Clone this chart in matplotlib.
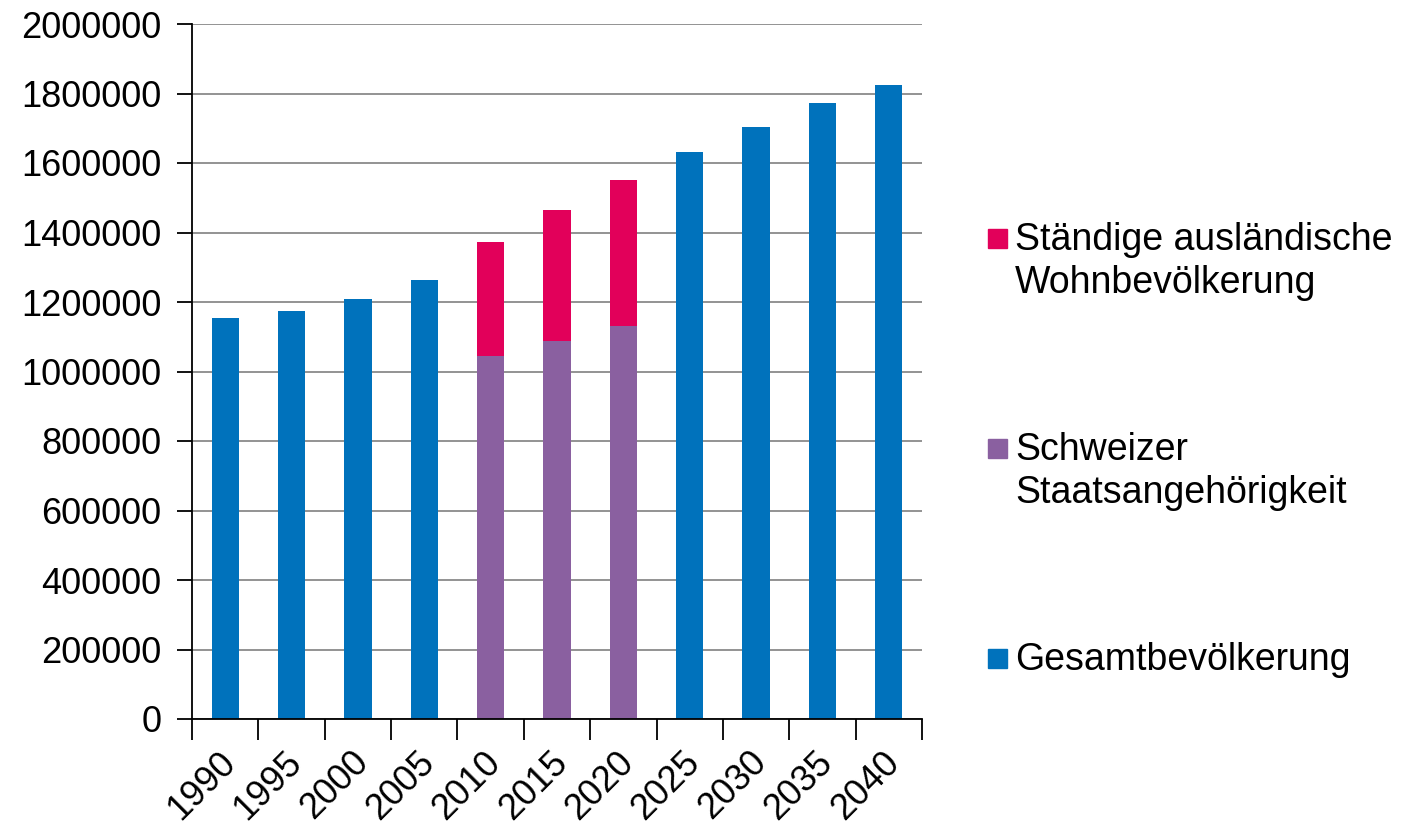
import matplotlib
matplotlib.use("Agg")
import matplotlib.pyplot as plt
import numpy as np
from matplotlib.patches import Rectangle
import matplotlib.transforms as mtransforms

plt.rcParams['font.family'] = ['Liberation Sans', 'DejaVu Sans']

years = ['1990', '1995', '2000', '2005', '2010', '2015', '2020', '2025', '2030', '2035', '2040']
gesamt = [1155000, 1173000, 1208000, 1264000, 0, 0, 0, 1631000, 1705000, 1772000, 1824000]
schweizer = [0, 0, 0, 0, 1045000, 1087000, 1130000, 0, 0, 0, 0]
auslaendisch = [0, 0, 0, 0, 327000, 377000, 421000, 0, 0, 0, 0]

labels = [['Ständige ausländische', 'Wohnbevölkerung'], ['Schweizer', 'Staatsangehörigkeit'], ['Gesamtbevölkerung']]
c_blue = '#0072BC'
c_purple = '#8A60A0'
c_red = '#E2005A'

W, H = 1406, 827
fig = plt.figure(figsize=(W / 100, H / 100), dpi=100)
ax = fig.add_axes([192 / W, 1 - 719 / H, (922 - 192) / W, (719 - 24) / H])

x = np.arange(len(years))
bw = 0.41
g = np.array(gesamt, dtype=float)
s = np.array(schweizer, dtype=float)
a = np.array(auslaendisch, dtype=float)
ax.bar(x, g, width=bw, color=c_blue, zorder=3)
ax.bar(x, s, width=bw, color=c_purple, zorder=3)
ax.bar(x, a, width=bw, bottom=s, color=c_red, zorder=3)

ax.set_xlim(-0.5, len(years) - 0.5)
ax.set_ylim(0, 2000000)
yt = np.arange(0, 2000001, 200000)
ax.set_yticks(yt)
ax.set_yticklabels([str(v) for v in yt], fontsize=26)
ax.yaxis.grid(True, color='#808080', linewidth=1.2, zorder=0)
ax.set_axisbelow(True)

for sp in ['top', 'right']:
    ax.spines[sp].set_visible(False)
for sp in ['left', 'bottom']:
    ax.spines[sp].set_color('black')
    ax.spines[sp].set_linewidth(1.3)
    ax.spines[sp].set_zorder(4)

ax.tick_params(axis='y', direction='out', length=11, width=1.3, pad=11)
# x ticks at category boundaries
ax.set_xticks(np.arange(-0.5, len(years), 1.0))
ax.set_xticklabels([])
ax.tick_params(axis='x', direction='out', length=15, width=1.3)

offset = mtransforms.ScaledTranslation(5 / 100, -38 / 100, fig.dpi_scale_trans)
for i, yr in enumerate(years):
    ax.text(i, 0, yr, fontsize=26, rotation=45, rotation_mode='anchor',
            ha='right', va='center',
            transform=ax.get_xaxis_transform() + offset)

# legend (manual, Excel-like)
legend_items = [(c_red, labels[0], 238.7), (c_purple, labels[1], 448.7), (c_blue, labels[2], 658.7)]
sq = 19
for col, lines, yc in legend_items:
    fig.add_artist(Rectangle(((997.5 - sq / 2) / W, 1 - (yc + sq / 2) / H), sq / W, sq / H,
                             transform=fig.transFigure, color=col))
    for k, line in enumerate(lines):
        fig.text(1015 / W, 1 - (yc + 11.5 + 43 * k) / H, line, fontsize=27,
                 ha='left', va='baseline')

fig.savefig('out.png', dpi=100)
